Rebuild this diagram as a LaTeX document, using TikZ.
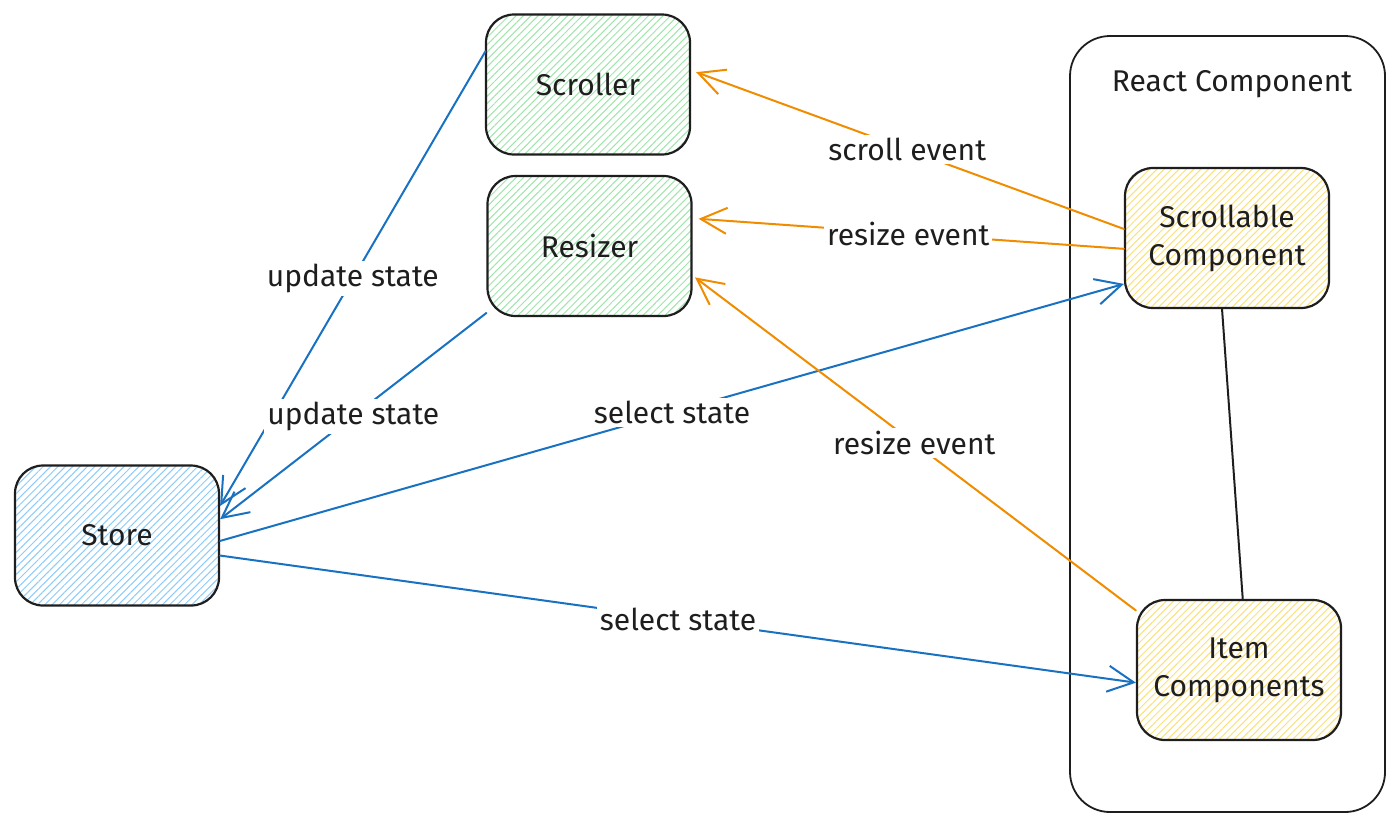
\documentclass[tikz,border=0pt]{standalone}
\usepackage{fontspec}
\setmainfont{Fira Sans}
\usetikzlibrary{arrows.meta,patterns.meta,calc}
\definecolor{ink}{HTML}{1E1E1E}
\definecolor{hgreen}{HTML}{9FE5AA}
\definecolor{hblue}{HTML}{8CCBFA}
\definecolor{hyellow}{HTML}{FBE07A}
\definecolor{eblue}{HTML}{1971C2}
\definecolor{eorange}{HTML}{F08C00}
\begin{document}
\begin{tikzpicture}[x=0.5pt,y=-0.5pt,
  box/.style={draw=ink, line width=1.1pt, rounded corners=14pt, minimum width=102pt,
    minimum height=70pt, inner sep=0pt, font=\fontsize{15}{19}\selectfont, text=ink, align=center},
  hatch/.style={pattern={Lines[angle=45,distance=2.6pt,line width=0.5pt]}, pattern color=#1},
  greenbox/.style={box, hatch=hgreen},
  bluebox/.style={box, hatch=hblue},
  yellowbox/.style={box, hatch=hyellow},
  lab/.style={fill=white, inner sep=1.5pt, font=\fontsize{15}{18}\selectfont, text=ink},
  conn/.style={line width=1pt, line cap=round, -{Straight Barb[length=13pt,width=13pt,line width=1pt]}},
  blueconn/.style={conn, draw=eblue},
  orangeconn/.style={conn, draw=eorange}]
\useasboundingbox (0,0) rectangle (1400,826);

% container
\node[draw=ink, line width=0.9pt, rounded corners=20pt, minimum width=157.5pt, minimum height=388pt, inner sep=0pt] (react) at (1227.5,424) {};
\node[font=\fontsize{15}{18}\selectfont, text=ink] (reactlabel) at (1232,84) {React Component};

% nodes
\node[greenbox] (scroller) at (588,84.5) {Scroller};
\node[greenbox] (resizer) at (589.5,246) {Resizer};
\node[bluebox] (store) at (117,535.5) {Store};
\node[yellowbox] (scrollable) at (1227,238) {Scrollable\\Component};
\node[yellowbox] (item) at (1239,670) {Item\\Components};

% connectors
\draw[ink, line width=1pt] (scrollable.266) -- (item.87.5);

\draw[blueconn] (scroller.162) -- node[lab]{update state} (store.16);
\draw[blueconn] (resizer.213) -- node[lab]{update state} (store.9);
\draw[blueconn] (store.-3) -- node[lab]{select state} (scrollable.204);
\draw[blueconn] (store.-11) -- node[lab]{select state} (item.187);

\draw[orangeconn, shorten >=3pt] (scrollable.175.5) -- node[lab]{scroll event} (scroller.8);
\draw[orangeconn, shorten >=3pt] (scrollable.186.5) -- node[lab]{resize event} (resizer.15);
\draw[orangeconn, shorten >=1.5pt] (item.150) -- node[lab]{resize event} (resizer.344);
\end{tikzpicture}
\end{document}
